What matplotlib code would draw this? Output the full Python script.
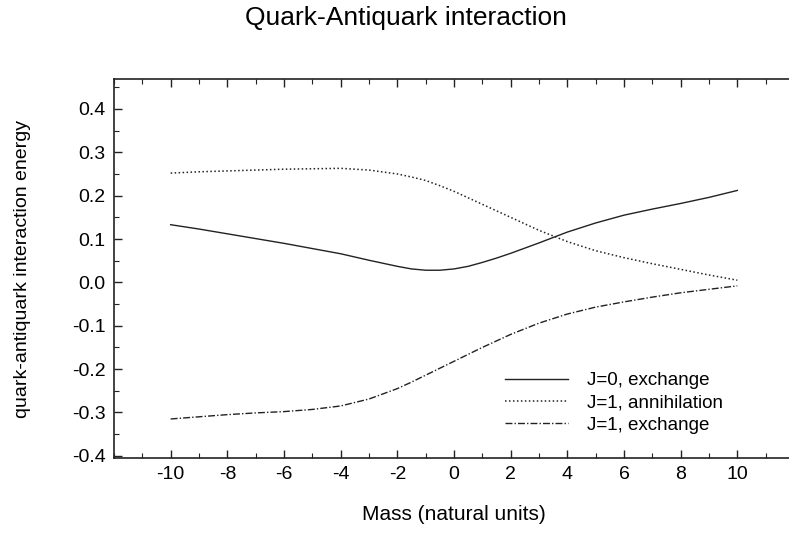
import matplotlib
matplotlib.use("Agg")
import matplotlib.pyplot as plt
from matplotlib.ticker import MultipleLocator

plt.rcParams['font.family'] = ['Liberation Sans', 'DejaVu Sans']
plt.rcParams['axes.unicode_minus'] = False

# values
mass = [-10, -9, -8, -7, -6, -5, -4, -3, -2, -1.5, -1, -0.5, 0, 0.5, 1, 1.5, 2,
        3, 4, 5, 6, 7, 8, 9, 10]
j0_exchange = [0.133, 0.123, 0.112, 0.101, 0.090, 0.078, 0.066, 0.051, 0.037,
               0.031, 0.028, 0.028, 0.031, 0.037, 0.046, 0.056, 0.067,
               0.091, 0.116, 0.137, 0.155, 0.169, 0.182, 0.196, 0.212]
j1_annihilation = [0.252, 0.255, 0.257, 0.259, 0.261, 0.262, 0.263, 0.259, 0.250,
                   0.243, 0.235, 0.223, 0.210, 0.195, 0.180, 0.165, 0.150,
                   0.120, 0.094, 0.073, 0.057, 0.043, 0.030, 0.017, 0.005]
j1_exchange = [-0.315, -0.310, -0.305, -0.301, -0.298, -0.293, -0.285, -0.269, -0.245,
               -0.230, -0.214, -0.198, -0.182, -0.166, -0.150, -0.135, -0.120,
               -0.094, -0.073, -0.057, -0.045, -0.034, -0.024, -0.016, -0.008]
x_ticks = [-10, -8, -6, -4, -2, 0, 2, 4, 6, 8, 10]
y_ticks = [-0.4, -0.3, -0.2, -0.1, 0.0, 0.1, 0.2, 0.3, 0.4]

fig = plt.figure(figsize=(7.89, 5.33), dpi=100)
ax = fig.add_axes([114 / 789, 75 / 533, 680 / 789, 379 / 533])

ax.plot(mass, j0_exchange, color='#222222', lw=1.0, label='J=0, exchange')
ax.plot(mass, j1_annihilation, color='#222222', lw=1.1, ls=(0, (1, 1.6)),
        label='J=1, annihilation')
ax.plot(mass, j1_exchange, color='#222222', lw=1.0, ls=(0, (5, 1.5, 1, 1.5)),
        label='J=1, exchange')

ax.set_xlim(-12, 12)
ax.set_ylim(-0.405, 0.469)
ax.set_xticks(x_ticks)
ax.set_xticklabels([str(v) for v in x_ticks])
ax.set_yticks(y_ticks)
ax.set_yticklabels(['%.1f' % v for v in y_ticks])
ax.xaxis.set_minor_locator(MultipleLocator(1))
ax.yaxis.set_minor_locator(MultipleLocator(0.05))

ax.spines['right'].set_visible(False)
for s in ['left', 'bottom', 'top']:
    ax.spines[s].set_linewidth(1.2)
    ax.spines[s].set_color('#222222')
ax.tick_params(which='both', direction='in', top=True, right=False,
               color='#222222', labelsize=14)
ax.tick_params(which='major', length=6, width=1.0)
ax.tick_params(which='minor', length=3.5, width=0.8)
ax.tick_params(axis='y', which='major', pad=6)
ax.tick_params(axis='x', which='major', pad=6)

ax.set_xlabel('Mass (natural units)', fontsize=15, va='center')
ax.xaxis.set_label_coords(0.5, -0.15)
ax.set_ylabel('quark-antiquark interaction energy', fontsize=14, va='center')
ax.yaxis.set_label_coords(-0.135, 0.5)
fig.text(0.515, 0.966, 'Quark-Antiquark interaction', fontsize=19,
         ha='center', va='center')

ax.legend(loc='center left', bbox_to_anchor=(0.575, 0.145), frameon=False,
          fontsize=13.5, handlelength=3.36, handletextpad=1.0, labelspacing=0.28,
          borderpad=0, borderaxespad=0)

fig.savefig('out.png', dpi=100)
